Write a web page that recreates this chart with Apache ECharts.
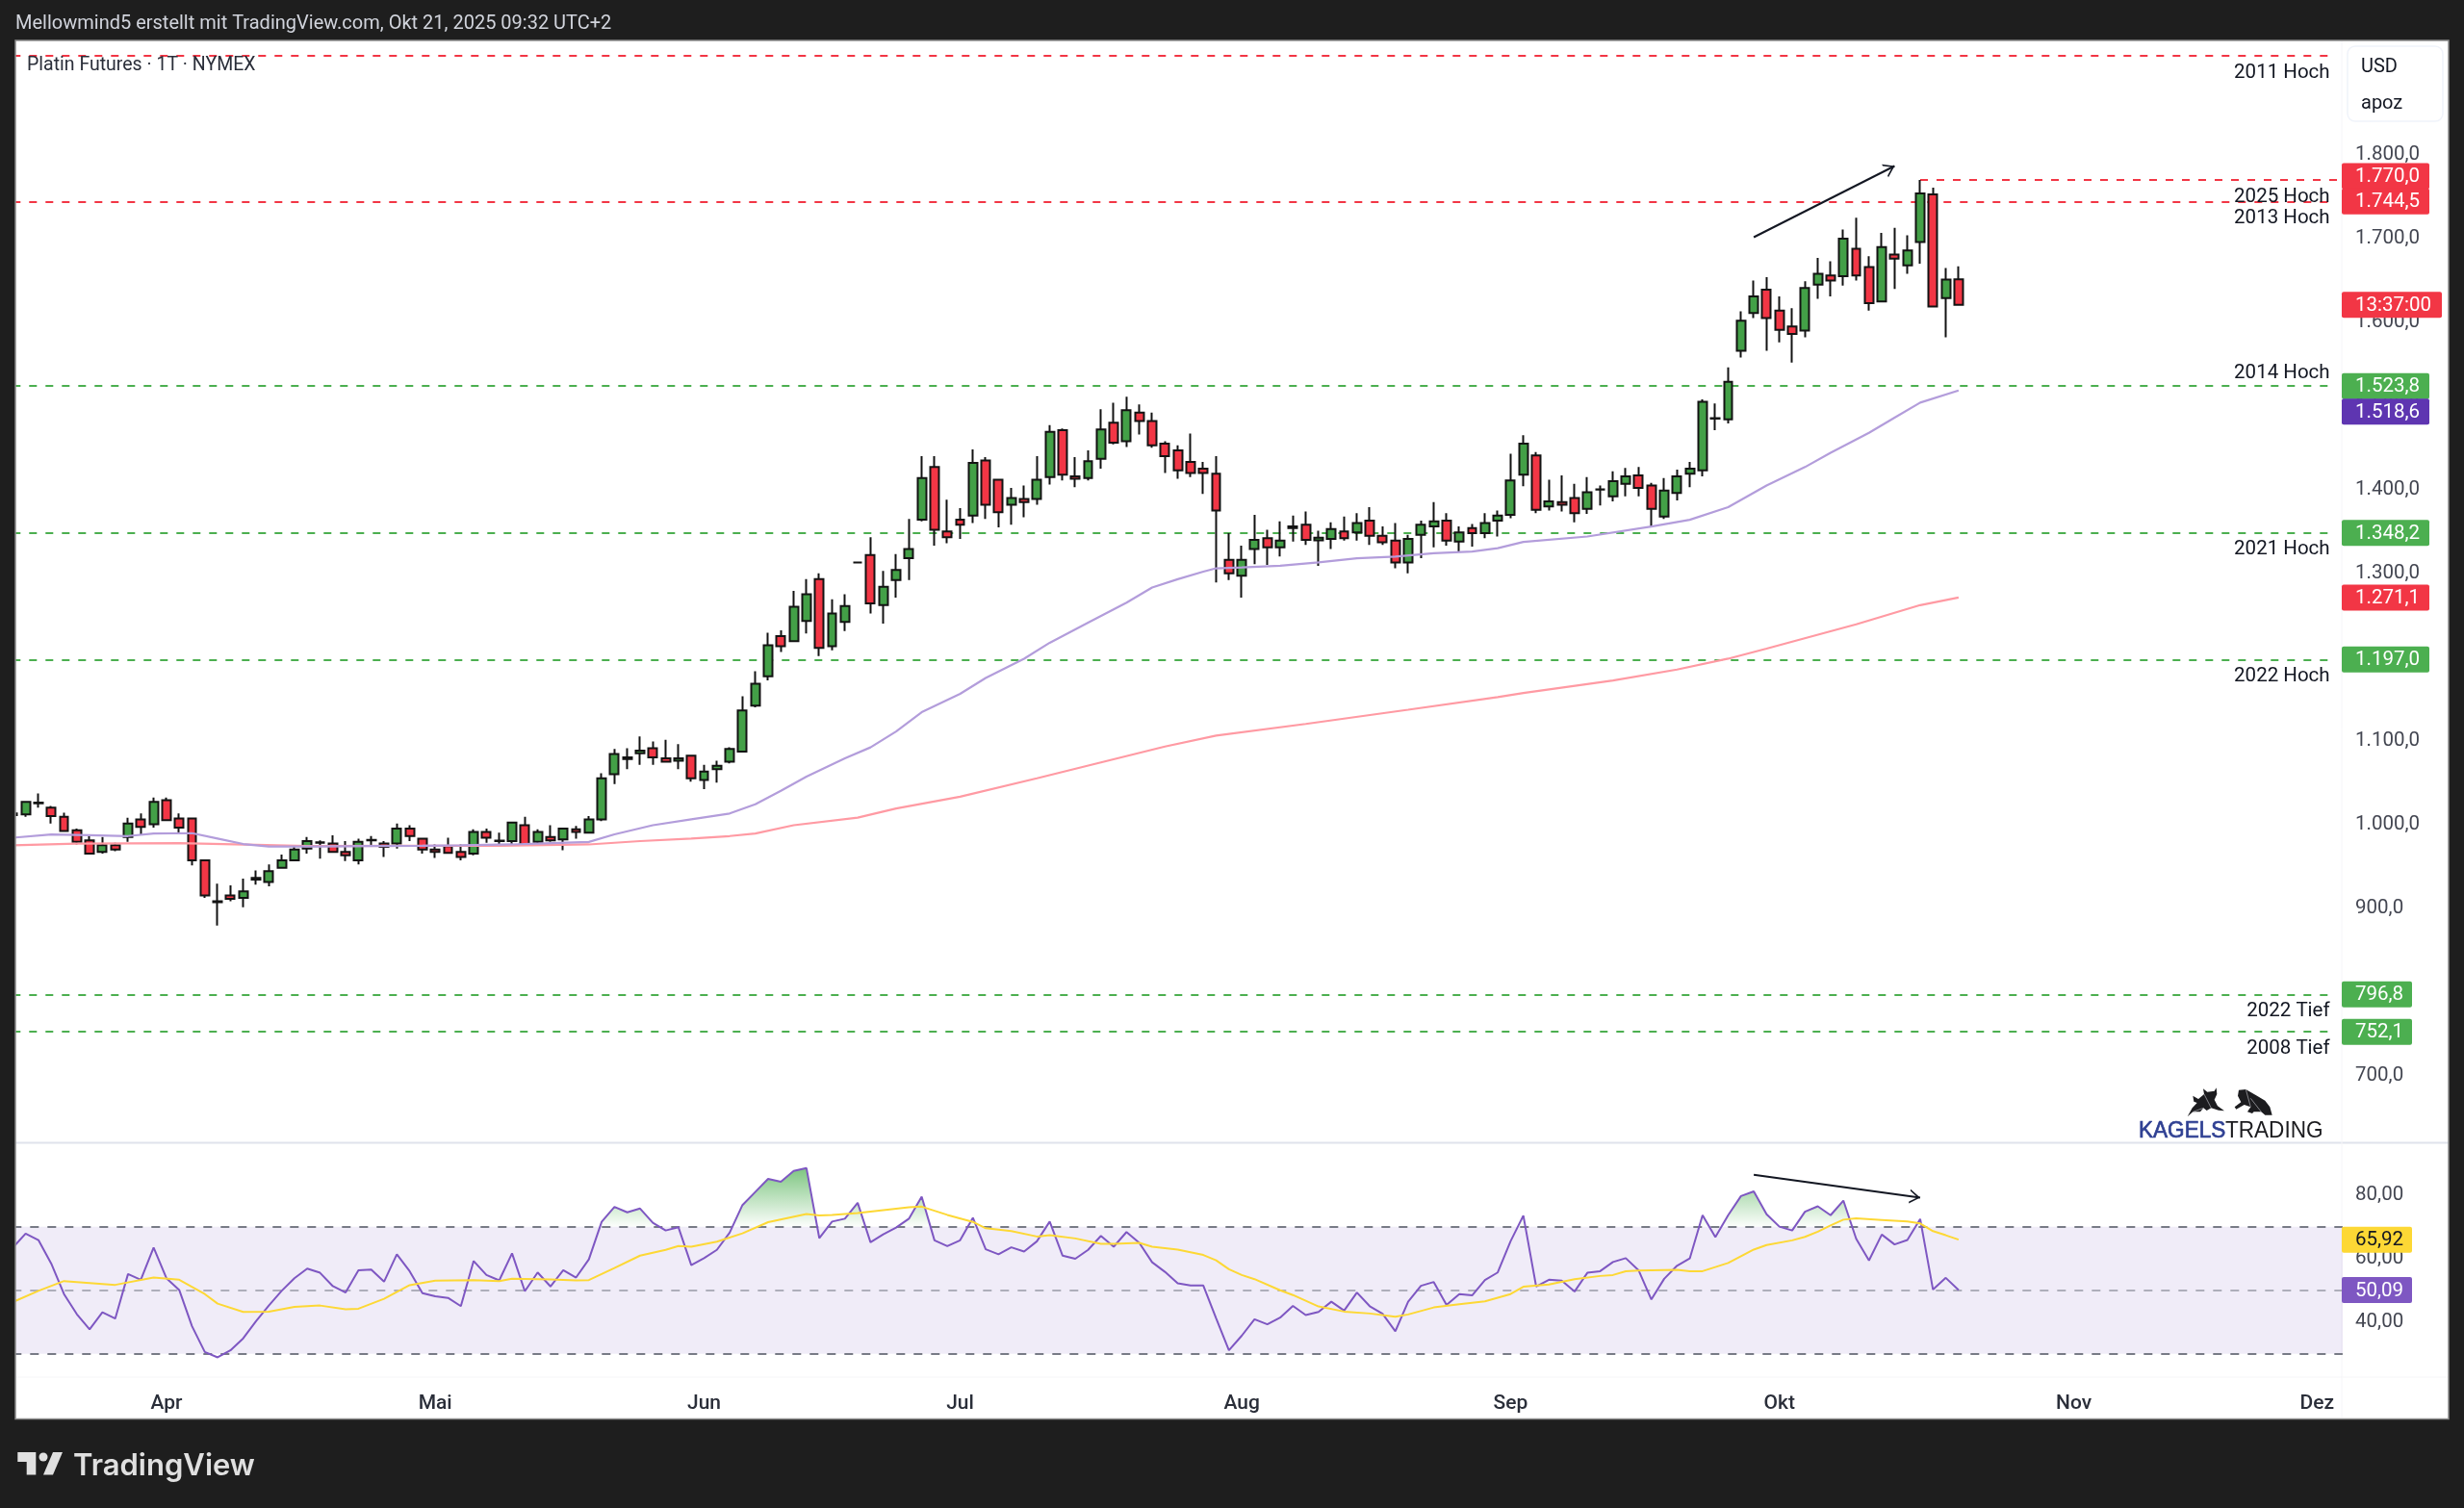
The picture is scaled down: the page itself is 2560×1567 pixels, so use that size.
<!DOCTYPE html>
<html>
<head>
<meta charset="utf-8">
<title>Platin Futures</title>
<script src="https://cdn.jsdelivr.net/npm/echarts@6/dist/echarts.min.js"></script>
<style>
    html, body { margin: 0; padding: 0; background: #1e1e1e; }
    #main { width: 2560px; height: 1567px; }
</style>
</head>
<body>
<div id="main"></div>
<script>
// candles, one value per trading day
var opens = [
    1013,1012,1025,1020,1009,993,981,967,975,985,
    1006,1000,1029,1007,1007,957,907,915,912,936,
    931,948,957,971,978,977,967,957,981,977,
    977,995,983,970,974,967,965,991,980,980,
    999,979,985,982,994,990,1006,1060,1080,1085,
    1091,1079,1076,1082,1053,1066,1075,1087,1142,1177,
    1225,1219,1243,1293,1213,1242,1313,1322,1262,1292,
    1318,1364,1427,1350,1364,1369,1435,1412,1382,1389,
    1389,1415,1471,1416,1414,1437,1480,1458,1492,1482,
    1455,1447,1433,1425,1419,1316,1297,1329,1342,1331,
    1356,1358,1339.5,1341,1350,1349,1363,1345,1339,1313,
    1346,1356,1363,1338,1354,1348,1363,1370,1418,1441,
    1380,1385,1390,1377,1400,1392,1407,1417,1405,1368,
    1396,1419,1423,1485,1484,1566,1611,1639,1614,1595,
    1590,1645,1656,1655,1688,1666,1625,1681,1668,1696,
    1753,1629,1651.5
];
var closes = [
    1011,1027,1026,1010,992,979,965,975,970,1001,
    997,1027,1005,996,957,915,908,911,920,934,
    944,957,970,980,978.5,967,963,979,981.5,973,
    995,986,970,967,966,961,991,984,980.5,1002,
    976,991,981,995,991,1006,1055,1084,1078,1088,
    1080,1075,1079,1055,1063,1070,1090,1136,1168,1214,
    1213,1260,1275,1211,1252,1261,1313,1264,1284,1304,
    1329,1414,1352,1343,1358,1432,1382,1373,1390,1385,
    1412,1469,1418,1413,1434,1472,1456,1495,1482,1453,
    1440,1423,1420,1420,1375,1300,1316,1340,1331,1339,
    1354,1340,1342.5,1353,1342,1360,1345,1337,1313,1341,
    1358,1362,1339,1349,1348,1360,1369,1411,1455,1376,
    1386,1382,1372,1397,1400.5,1410,1416,1402,1377,1399,
    1416,1425,1505,1485.5,1529,1602,1631,1605,1591,1586,
    1641,1658,1650,1700,1656,1623,1690,1676,1686,1754,
    1619,1651,1621
];
var lows = [
    1008,1009,1020,1001,991,976,964,965,968,979,
    988,996,1004,990,951,912,879,908,901,928,
    926,947,956,965,959,966,956,952,975,961,
    971,980,965,960,965,957,963,978,976,976,
    975,977,979,969,983,989,1004,1048,1066,1071,
    1071,1074,1066,1051,1042,1050,1073,1086,1140,1172,
    1206,1218,1228,1201,1208,1231,1313,1252,1240,1271,
    1292,1362,1333,1336,1341,1360,1365,1355,1358,1367,
    1382,1406,1411,1403,1411,1425,1454,1451,1466,1450,
    1420,1413,1415,1395,1289,1292,1271,1311,1310,1320,
    1338,1334,1309,1329,1339,1339,1334,1334,1306,1300,
    1318,1331,1333,1325,1332,1342,1344,1366,1404,1372,
    1375,1374,1361,1371,1381,1386,1392,1392,1355,1365,
    1387,1403,1416,1471,1479,1558,1605,1566,1576,1552,
    1582,1628,1631,1644,1650,1614,1624,1640,1658,1670,
    1618,1582,1620
];
var highs = [
    1015,1027.5,1037,1022,1014,995,987,985,978,1008,
    1013,1032,1032,1013,1007,957,929,927,935,945,
    952,964,973,985,981,987,980,983,986,980,
    1001,999,984,976,984,976,994,995,990,1003,
    1009,994,999,996,998,1010,1061,1090,1091,1105,
    1099,1101,1096,1082,1071,1076,1092,1153,1183,1229,
    1232,1279,1293,1300,1269,1275,1313,1343,1303,1323,
    1365,1440,1440,1388,1378,1448,1439,1413,1402,1405,
    1440,1477,1473,1439,1447,1496,1504,1511,1502,1492,
    1458,1453,1467,1433,1440,1348,1333,1370,1352,1362,
    1369,1374,1351,1361,1368,1372,1379,1356,1360,1346,
    1363,1385,1372,1356,1359,1372,1375,1443,1465,1445,
    1412,1417,1407,1415,1405,1422,1426,1427,1408,1414,
    1424,1433,1508,1503,1546,1613,1650,1654,1631,1617,
    1649,1677,1673,1711,1725,1679,1707,1713,1704,1770,
    1761,1665,1667
];

// moving averages, [candle index, price] read at the bends
var ma50 = [
    [0,984],[3,988],[6,987],[9,986],[11,989],[14,989.5],[16,983],[18,976.5],[20,973.5],[24,973.5],
    [28,974],[32,974.5],[35,975],[39,976],[41,977],[45,979],[47,988],[50,999],[53,1006],[56,1013],
    [58,1024],[60,1040],[62,1057],[65,1079],[67,1092],[69,1111],[71,1134],[74,1156],[76,1175],[79,1198],
    [81,1217],[84,1241],[87,1265],[89,1283],[91,1293],[93,1302],[94,1306],[96,1307],[99,1309],[102,1313],
    [105,1318],[108,1320],[111,1324],[114,1326],[116,1330],[118,1337.5],[123,1344],[128,1356],[131,1364],[134,1379],
    [137,1405],[140,1427],[142,1444],[145,1468],[147,1486],[149,1504],[152,1518.6]
];
var ma200 = [
    [0,975],[5,977],[13,977.5],[19,975.5],[23,974],[31,974.5],[38,974.5],[45,976],[49,980],[53,983],
    [56,986],[58,989],[61,999],[66,1008],[69,1019],[74,1033],[80,1055],[85,1074],[90,1093],[94,1106],
    [101,1120],[109,1137],[116,1152],[118,1157],[125,1172],[130,1185],[134,1198],[137,1210],[144,1239],[149,1262],
    [152,1271.1]
];

// RSI, one value per trading day
var rsi = [
    63.4,67.8,65.8,58.4,48.8,42.5,37.7,43.1,41.1,55.1,
    53.3,63.4,53.8,50.1,38.7,30.6,28.9,31.1,34.9,40.3,
    45.2,49.8,53.8,56.8,55.5,51.3,49.3,56.3,56.5,52.7,
    61.3,56.0,49.1,48.1,47.6,45.0,59.2,54.8,53.1,61.6,
    49.7,55.6,51.2,56.3,54.0,59.7,71.5,76.2,74.5,75.7,
    71.2,68.8,69.8,57.9,60.1,62.7,68.1,76.8,80.9,85.0,
    84.1,87.5,88.4,66.4,71.6,72.5,77.5,65.1,67.6,69.7,
    72.5,79.4,65.7,63.9,65.7,72.8,62.9,61.3,63.5,62.2,
    65.4,71.6,60.9,59.9,62.7,67.1,63.7,68.3,64.9,58.8,
    55.8,52.2,51.5,51.5,41.2,31.1,35.7,40.9,39.3,41.4,
    45.1,42.2,43.2,46.4,43.6,49.3,45.0,42.6,37.1,46.4,
    51.4,52.6,45.4,48.8,48.4,53.2,55.6,65.4,73.5,51.2,
    53.3,53.0,49.6,55.5,56.0,58.9,60.1,56.3,47.1,53.6,
    57.7,60.0,73.6,66.7,73.6,79.6,81.1,73.9,70.0,68.8,
    74.7,76.4,73.6,78.2,66.2,59.4,67.5,64.4,65.8,72.4,
    50.2,53.9,50.09
];
var rsiMa = [
    [0,46.3],[2,49.8],[4,52.9],[8,51.7],[11,54],[13,53.3],[15,48.8],[16,45.8],[18,43.2],[20,43.3],
    [22,44.8],[24,45.2],[26,44],[27,44.2],[29,47.3],[31,51.6],[33,53],[36,53.2],[38,52.9],[39,53.6],
    [42,53.4],[44,53.1],[45,53.2],[47,57],[49,60.9],[51,62.7],[52,63.9],[53,63.7],[55,65.3],[57,67.9],
    [59,71.4],[62,74],[63,73.5],[64,73.7],[66,74.3],[68,75.2],[70,76.1],[71,76.3],[73,73.7],[75,71.5],
    [76,69.5],[78,68.6],[80,66.9],[81,67.3],[83,66.3],[85,64.6],[86,64.6],[88,64.9],[89,63.7],[91,62.8],
    [93,61.1],[94,59.4],[95,56.6],[96,54.8],[97,53.5],[99,50],[100,48.5],[102,44.9],[104,43.3],[106,42.7],
    [108,41.7],[109,42.4],[111,44.6],[113,45.6],[115,46.5],[117,48.8],[118,51.1],[120,51.8],[122,53.5],[124,54.5],
    [125,54.8],[126,56],[127,56.2],[130,56.4],[131,56],[132,56],[134,58.6],[136,62.8],[137,64.2],[139,65.7],
    [140,66.8],[141,68.4],[142,70.4],[143,72.2],[144,72.6],[146,72.1],[148,71.6],[149,71],[150,68.6],[151,67.3],
    [152,65.92]
];

// x axis: 183 slots, a month name on the first trading day of the month
var slotCount = 183;
var monthIndex = [12, 33, 54, 74, 96, 117, 138, 161, 180];
var monthNames = ['Apr', 'Mai', 'Jun', 'Jul', 'Aug', 'Sep', 'Okt', 'Nov', 'Dez'];
var categories = [];
for (var i = 0; i < slotCount; i++) {
    var m = monthIndex.indexOf(i);
    categories.push(m >= 0 ? monthNames[m] : '');
}

// horizontal levels
var levelValues = [1918.5, 1770, 1744.5, 1523.8, 1348.2, 1197, 796.8, 752.1];
var levelNames = ['2011 Hoch', '2025 Hoch', '2013 Hoch', '2014 Hoch', '2021 Hoch', '2022 Hoch', '2022 Tief', '2008 Tief'];
var levelColors = ['#f23645', '#f23645', '#f23645', '#4caf50', '#4caf50', '#4caf50', '#4caf50', '#4caf50'];
var levelStart = [0, 149, 0, 0, 0, 0, 0, 0];
var levelEnd = [181, 182, 181, 181, 181, 181, 181, 181];

// price tags on the right scale
var priceTagValues = [1770, 1744.5, 1621, 1523.8, 1518.6, 1348.2, 1271.1, 1197, 796.8, 752.1];
var priceTagTexts = ['1.770,0', '1.744,5', '13:37:00', '1.523,8', '1.518,6', '1.348,2', '1.271,1', '1.197,0', '796,8', '752,1'];
var priceTagColors = ['#f23645', '#f23645', '#f23645', '#4caf50', '#5e35b1', '#4caf50', '#f23645', '#4caf50', '#4caf50', '#4caf50'];
var rsiTagValues = [65.92, 50.09];
var rsiTagTexts = ['65,92', '50,09'];
var rsiTagColors = ['#fdd835', '#7e57c2'];

// hand drawn arrows, [candle index, value]
var priceArrow = [[136, 1701.7], [147, 1786.8]];
var rsiArrow = [[136, 86.3], [149, 79.1]];

var fontName = 'Roboto';
var textDark = '#131722';
var axisGrey = '#434651';
// open arrow head with its tip on the middle of the symbol
var arrowHead = 'path://M5,-10L5,-10ZM5,0L10,10L8.7,10L5,2.6L1.3,10L0,10Z';

var candleData = opens.map(function (o, i) {
    return [o, closes[i], lows[i], highs[i]];
});

var levelLines = levelValues.map(function (v, i) {
    return [
        {coord: [levelStart[i], v], lineStyle: {color: levelColors[i], width: 2, type: [8, 9]}},
        {coord: [levelEnd[i], v]}
    ];
});

var levelLabels = levelValues.map(function (v, i) {
    return {
        coord: [181, v],
        label: {formatter: levelNames[i], offset: [0, levelNames[i] == '2014 Hoch' ? -13.5 : 17.5]}
    };
});

function arrowSeries(points, xIdx, yIdx) {
    return {
        type: 'line',
        xAxisIndex: xIdx,
        yAxisIndex: yIdx,
        data: [],
        silent: true,
        markLine: {
            silent: true,
            z: 7,
            animation: false,
            symbol: ['none', arrowHead],
            symbolSize: [15, 22],
            label: {show: false},
            lineStyle: {color: '#131722', width: 2, type: 'solid'},
            emphasis: {disabled: true},
            data: [[{coord: points[0]}, {coord: points[1]}]]
        }
    };
}

var rsiMax = Math.max.apply(null, rsi);
var rsiMin = Math.min.apply(null, rsi);
var overbought = (rsiMax - 70) / (rsiMax - rsiMin);

var myChart = echarts.init(document.getElementById('main'));
var option = {
    animation: false,
    backgroundColor: '#1e1e1e',
    textStyle: {fontFamily: fontName},
    grid: [
        {left: 6.65, top: 10.6, width: 2433.9, height: 1193.8},
        {left: 6.65, top: 1175.5, width: 2433.9, height: 264.4}
    ],
    xAxis: [
        {type: 'category', gridIndex: 0, data: categories, show: false},
        {
            type: 'category',
            gridIndex: 1,
            data: categories,
            axisLine: {show: false},
            axisTick: {show: false},
            axisLabel: {
                color: '#2a2e39',
                fontFamily: fontName,
                fontSize: 21,
                fontWeight: 500,
                margin: 8,
                hideOverlap: false,
                interval: function (i, v) {
                    return v !== '';
                }
            }
        }
    ],
    yAxis: [
        {
            type: 'value',
            gridIndex: 0,
            position: 'right',
            min: 600,
            max: 1973,
            interval: 100,
            splitLine: {show: false},
            axisLine: {show: false},
            axisTick: {show: false},
            axisLabel: {
                color: axisGrey,
                fontFamily: fontName,
                fontSize: 20.5,
                margin: 6.5,
                padding: [3, 0, 0, 0],
                showMinLabel: false,
                showMaxLabel: false,
                formatter: function (v) {
                    return v.toLocaleString('de-DE', {minimumFractionDigits: 1});
                }
            }
        },
        {
            type: 'value',
            gridIndex: 1,
            position: 'right',
            min: 20,
            max: 100,
            interval: 20,
            splitLine: {show: false},
            axisLine: {show: false},
            axisTick: {show: false},
            axisLabel: {
                color: axisGrey,
                fontFamily: fontName,
                fontSize: 20.5,
                margin: 6.5,
                padding: [3, 0, 0, 0],
                showMinLabel: false,
                showMaxLabel: false,
                formatter: function (v) {
                    return v.toFixed(2).replace('.', ',');
                }
            }
        }
    ],
    series: [
        {
            name: 'levels',
            type: 'line',
            xAxisIndex: 0,
            yAxisIndex: 0,
            data: [],
            markLine: {
                silent: true,
                z: 1,
                animation: false,
                symbol: 'none',
                label: {show: false},
                emphasis: {disabled: true},
                data: levelLines
            },
            markPoint: {
                silent: true,
                z: 6,
                animation: false,
                symbol: 'circle',
                symbolSize: 0,
                label: {
                    show: true,
                    position: 'inside',
                    align: 'right',
                    verticalAlign: 'middle',
                    color: textDark,
                    fontFamily: fontName,
                    fontSize: 20.5
                },
                data: levelLabels
            }
        },
        {
            name: 'MA200',
            type: 'line',
            xAxisIndex: 0,
            yAxisIndex: 0,
            data: ma200,
            showSymbol: false,
            silent: true,
            lineStyle: {color: '#ff9aa3', width: 2.2}
        },
        {
            name: 'MA50',
            type: 'line',
            xAxisIndex: 0,
            yAxisIndex: 0,
            data: ma50,
            showSymbol: false,
            silent: true,
            lineStyle: {color: '#b39ddb', width: 2.2}
        },
        {
            name: 'Platin',
            type: 'candlestick',
            xAxisIndex: 0,
            yAxisIndex: 0,
            data: candleData,
            barWidth: 9.4,
            silent: true,
            itemStyle: {
                color: '#43a047',
                color0: '#f23645',
                borderColor: '#131313',
                borderColor0: '#131313',
                borderWidth: 2
            }
        },
        arrowSeries(priceArrow, 0, 0),
        {
            name: 'RSI',
            type: 'line',
            xAxisIndex: 1,
            yAxisIndex: 1,
            data: rsi,
            showSymbol: false,
            silent: true,
            lineStyle: {color: '#7e57c2', width: 2},
            areaStyle: {
                origin: 70,
                opacity: 1,
                color: new echarts.graphic.LinearGradient(0, 0, 0, 1, [
                    {offset: 0, color: 'rgba(76,175,80,0.72)'},
                    {offset: overbought, color: 'rgba(76,175,80,0.02)'},
                    {offset: overbought, color: 'rgba(76,175,80,0)'},
                    {offset: 1, color: 'rgba(76,175,80,0)'}
                ])
            },
            markArea: {
                silent: true,
                animation: false,
                itemStyle: {color: 'rgba(126,87,194,0.115)'},
                data: [[{coord: [0, 70]}, {coord: [182, 30]}]]
            },
            markLine: {
                silent: true,
                z: 3,
                animation: false,
                symbol: 'none',
                label: {show: false},
                emphasis: {disabled: true},
                lineStyle: {color: '#787b86', width: 2, type: [9, 9]},
                data: [
                    [{coord: [0, 70]}, {coord: [182, 70]}],
                    [{coord: [0, 50], lineStyle: {color: 'rgba(120,123,134,0.55)', width: 2, type: [9, 9]}}, {coord: [182, 50]}],
                    [{coord: [0, 30]}, {coord: [182, 30]}]
                ]
            }
        },
        {
            name: 'RSI MA',
            type: 'line',
            xAxisIndex: 1,
            yAxisIndex: 1,
            data: rsiMa,
            showSymbol: false,
            silent: true,
            lineStyle: {color: '#fdd835', width: 2}
        },
        arrowSeries(rsiArrow, 1, 1)
    ]
};
myChart.setOption(option);

function tagGraphic(y, text, fill, textColor, z) {
    var w = text.length >= 8 ? 104 : (text.length == 7 ? 91 : 73);
    return [
        {type: 'rect', z: z, shape: {x: 2433, y: y - 13.5, width: w, height: 27, r: 2}, style: {fill: fill}},
        {
            type: 'text', z: z, x: 2447, y: y + 1,
            style: {text: text, fill: textColor, font: '20.5px ' + fontName, textVerticalAlign: 'middle'}
        }
    ];
}

function panelText(x, y, text, fill, font, z) {
    return {
        type: 'text', z: z || 22, x: x, y: y,
        style: {text: text, fill: fill, font: font, textVerticalAlign: 'middle'}
    };
}

// logo drawn into the scaled space of a 3x crop
function logoShape(points) {
    return {
        type: 'polygon',
        z: 22,
        x: 2210,
        y: 1122,
        scaleX: 1 / 3,
        scaleY: 1 / 3,
        shape: {points: points},
        style: {fill: '#1c1c1f'}
    };
}

function logoFacet(points) {
    return {
        type: 'polyline',
        z: 23,
        x: 2210,
        y: 1122,
        scaleX: 1 / 3,
        scaleY: 1 / 3,
        shape: {points: points},
        style: {stroke: '#9a9aa0', lineWidth: 2.5, fill: 'none'}
    };
}

var kagels = panelText(2222, 1175.5, 'KAGELS', '#2e3f92', '24px "Liberation Sans"');
kagels.scaleX = 0.94;
kagels.style.stroke = '#2e3f92';
kagels.style.lineWidth = 0.7;
var trading = panelText(2312, 1175.5, 'TRADING', '#1c1c1f', '24px "Liberation Sans"');
trading.scaleX = 0.94;

var graphics = [
    {type: 'rect', z: -10, shape: {x: 16, y: 42, width: 2528, height: 1432.5}, style: {fill: '#ffffff'}},
    {type: 'line', z: -9, shape: {x1: 16, y1: 1187.5, x2: 2544, y2: 1187.5}, style: {stroke: '#e0e3eb', lineWidth: 2}},
    {type: 'line', z: -9, shape: {x1: 16, y1: 1431, x2: 2544, y2: 1431}, style: {stroke: '#f5f5f8', lineWidth: 1}},
    {type: 'line', z: -9, shape: {x1: 2433, y1: 42, x2: 2433, y2: 1473}, style: {stroke: '#f5f5f8', lineWidth: 1}},
    {type: 'rect', z: 20, shape: {x: 0, y: 0, width: 16, height: 1567}, style: {fill: '#1e1e1e'}},
    {type: 'rect', z: 20, shape: {x: 0, y: 0, width: 2560, height: 42}, style: {fill: '#1e1e1e'}},
    {type: 'rect', z: 21, shape: {x: 16, y: 42, width: 2528, height: 1432.5}, style: {fill: 'none', stroke: '#8a8a8a', lineWidth: 1.5}},
    {type: 'rect', z: 20, shape: {x: 2439, y: 48, width: 99, height: 78, r: 8}, style: {fill: '#ffffff', stroke: '#f0f3fa', lineWidth: 1.5}},
    panelText(16, 25, 'Mellowmind5 erstellt mit TradingView.com, Okt 21, 2025 09:32 UTC+2', '#d1d4dc', '20px ' + fontName),
    panelText(28, 68.5, 'Platin Futures · 1T · NYMEX', '#2a2e39', '19.5px ' + fontName),
    panelText(2453, 69.5, 'USD', textDark, '20px ' + fontName),
    panelText(2453, 107.5, 'apoz', textDark, '20px ' + fontName),
    kagels,
    trading,
    logoShape([[237,28],[250,38],[272,35],[278,25],[280,45],[272,62],[282,82],[303,97],[285,95],[262,88],[248,96],[238,88],[228,100],[205,100],[188,115],[203,88],[218,72],[208,68],[205,50],[222,60],[240,45]]),
    logoFacet([[240,45],[262,88]]),
    logoFacet([[205,100],[238,88]]),
    logoShape([[348,32],[370,30],[405,50],[430,65],[445,85],[452,110],[430,110],[418,100],[395,100],[390,105],[375,100],[385,85],[365,78],[340,92],[335,85],[355,70],[345,50]]),
    logoFacet([[370,30],[385,85]]),
    logoFacet([[385,58],[418,100]]),
    // footer
    {type: 'polygon', z: 22, shape: {points: [[18.3,1509],[37.3,1509],[37.3,1532.5],[27.7,1532.5],[27.7,1519],[18.3,1519]]}, style: {fill: '#e0e0e0'}},
    {type: 'circle', z: 22, shape: {cx: 45, cy: 1514, r: 4.5}, style: {fill: '#e0e0e0'}},
    {type: 'polygon', z: 22, shape: {points: [[55,1509],[65,1509],[55,1532.5],[45,1532.5]]}, style: {fill: '#e0e0e0'}},
    panelText(76, 1523.5, 'TradingView', '#e0e0e0', '600 31px Inter')
];

// tags are placed from their values, two sit next to their true place so they do not overlap
var tagNudge = {1770: -4, 1518.6: 22};
priceTagValues.forEach(function (v, i) {
    var y = myChart.convertToPixel({yAxisIndex: 0}, v) + (tagNudge[v] || 0);
    graphics = graphics.concat(tagGraphic(y, priceTagTexts[i], priceTagColors[i], '#ffffff', 23 + i));
});
rsiTagValues.forEach(function (v, i) {
    var y = myChart.convertToPixel({yAxisIndex: 1}, v);
    graphics = graphics.concat(tagGraphic(y, rsiTagTexts[i], rsiTagColors[i], i == 0 ? '#131722' : '#ffffff', 23 + i));
});

myChart.setOption({graphic: graphics});
</script>
</body>
</html>
